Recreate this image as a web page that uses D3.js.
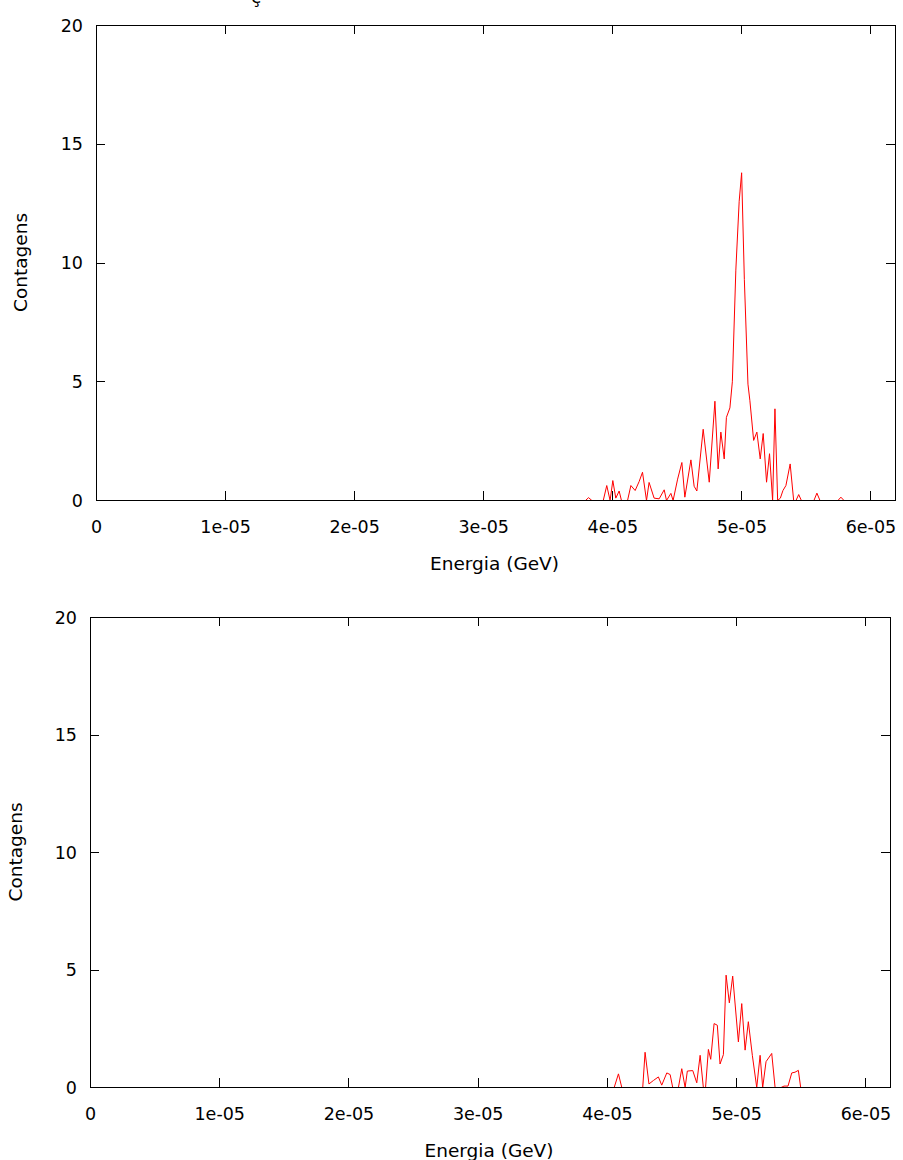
<!DOCTYPE html>
<html>
<head>
<meta charset="utf-8">
<script src="https://cdn.jsdelivr.net/npm/d3@7"></script>
<style>
  html, body { margin: 0; padding: 0; background: #fff; }
  svg { display: block; font-family: "DejaVu Sans", sans-serif; }
  .tick-label { font-size: 17.5px; fill: #000; }
  .axis-title { font-size: 18.5px; fill: #000; }
</style>
</head>
<body>
<div id="chart"></div>
<script>
// Espectros de energia (contagens por bin).
const ticksEnergia = [0, 1e-5, 2e-5, 3e-5, 4e-5, 5e-5, 6e-5];
const rotulosEnergia = ['0', '1e-05', '2e-05', '3e-05', '4e-05', '5e-05', '6e-05'];
const ticksContagens = [0, 5, 10, 15, 20];

const energiaTopo = [
  0, 3.788e-5, 3.812e-5, 3.838e-5, 3.926e-5, 3.953e-5, 3.979e-5, 4.000e-5,
  4.023e-5, 4.049e-5, 4.067e-5, 4.114e-5, 4.140e-5, 4.173e-5, 4.204e-5, 4.230e-5,
  4.261e-5, 4.281e-5, 4.320e-5, 4.359e-5, 4.398e-5, 4.416e-5, 4.450e-5, 4.467e-5,
  4.502e-5, 4.535e-5, 4.558e-5, 4.605e-5, 4.630e-5, 4.651e-5, 4.700e-5, 4.747e-5,
  4.791e-5, 4.816e-5, 4.837e-5, 4.863e-5, 4.880e-5, 4.907e-5, 4.926e-5, 4.953e-5,
  4.979e-5, 4.998e-5, 5.019e-5, 5.047e-5, 5.062e-5, 5.091e-5, 5.116e-5, 5.142e-5,
  5.165e-5, 5.191e-5, 5.214e-5, 5.238e-5, 5.256e-5, 5.277e-5, 5.298e-5, 5.318e-5,
  5.341e-5, 5.374e-5, 5.401e-5, 5.419e-5, 5.440e-5, 5.461e-5, 5.558e-5, 5.581e-5,
  5.605e-5, 5.744e-5, 5.767e-5, 5.791e-5, 6.19e-5
];
const contagensTopo = [
  0, 0, 0.12, 0, 0, 0.63, 0, 0.84,
  0.1, 0.4, 0, 0, 0.63, 0.42, 0.8, 1.19,
  0, 0.76, 0.1, 0.07, 0.45, 0, 0.3, 0,
  0.9, 1.6, 0.14, 1.71, 0.6, 0.4, 3.0, 0.77,
  4.18, 1.33, 2.88, 1.75, 3.5, 3.9, 5.0, 9.7,
  12.6, 13.8, 9.3, 4.9, 4.2, 2.53, 2.88, 1.75,
  2.82, 0.77, 1.97, 0, 3.86, 0, 0.1, 0.42,
  0.63, 1.54, 0, 0, 0.25, 0, 0, 0.31,
  0, 0, 0.14, 0, 0
];

const energiaBase = [
  0, 4.052e-5, 4.085e-5, 4.111e-5, 4.273e-5, 4.291e-5, 4.321e-5, 4.356e-5,
  4.394e-5, 4.420e-5, 4.459e-5, 4.485e-5, 4.505e-5, 4.549e-5, 4.575e-5, 4.601e-5,
  4.618e-5, 4.660e-5, 4.691e-5, 4.717e-5, 4.742e-5, 4.759e-5, 4.781e-5, 4.799e-5,
  4.825e-5, 4.850e-5, 4.871e-5, 4.897e-5, 4.918e-5, 4.943e-5, 4.969e-5, 5.013e-5,
  5.039e-5, 5.065e-5, 5.090e-5, 5.121e-5, 5.155e-5, 5.181e-5, 5.201e-5, 5.227e-5,
  5.271e-5, 5.297e-5, 5.343e-5, 5.366e-5, 5.397e-5, 5.426e-5, 5.451e-5, 5.477e-5,
  5.495e-5, 6.19e-5
];
const contagensBase = [
  0, 0, 0.58, 0, 0, 1.5, 0.15, 0.3,
  0.45, 0.1, 0.62, 0.55, 0, 0, 0.8, 0,
  0.7, 0.72, 0.2, 1.37, 0, 0, 1.62, 1.2,
  2.72, 2.65, 1.0, 1.4, 4.78, 3.6, 4.74, 1.94,
  3.57, 1.59, 2.8, 1.37, 0, 1.37, 0, 1.1,
  1.45, 0, 0, 0.06, 0.06, 0.62, 0.65, 0.73,
  0, 0
];

const W = 903, H = 1160;
const svg = d3.select('#chart').append('svg')
  .attr('width', W).attr('height', H)
  .attr('viewBox', `0 0 ${W} ${H}`);

// Título cortado no topo: só a cedilha aparece.
svg.append('text')
  .attr('class', 'axis-title')
  .attr('x', 256).attr('y', 3)
  .attr('text-anchor', 'middle')
  .text('ç');

function drawPanel(box, energia, contagens) {
  const x = d3.scaleLinear().domain([0, 6.19e-5]).range([box.left + 0.5, box.right + 0.5]);
  const y = d3.scaleLinear().domain([0, 20]).range([box.bottom + 0.5, box.top + 0.5]);
  const g = svg.append('g');
  const tickLen = 9;

  // curva
  g.append('path')
    .datum(d3.zip(energia, contagens))
    .attr('fill', 'none')
    .attr('stroke', '#ff0000')
    .attr('stroke-width', 1)
    .attr('d', d3.line().x(d => x(d[0])).y(d => y(d[1])));

  // moldura
  g.append('rect')
    .attr('x', box.left + 0.5).attr('y', box.top + 0.5)
    .attr('width', box.right - box.left).attr('height', box.bottom - box.top)
    .attr('fill', 'none').attr('stroke', '#000').attr('stroke-width', 1)
    .attr('shape-rendering', 'crispEdges');

  // ticks (embaixo/em cima e esquerda/direita)
  const tk = g.append('g').attr('stroke', '#000').attr('shape-rendering', 'crispEdges');
  ticksEnergia.forEach(t => {
    const px = Math.round(x(t) - 0.5) + 0.5;
    tk.append('line').attr('x1', px).attr('x2', px)
      .attr('y1', box.bottom).attr('y2', box.bottom - tickLen);
    tk.append('line').attr('x1', px).attr('x2', px)
      .attr('y1', box.top).attr('y2', box.top + tickLen);
  });
  ticksContagens.forEach(t => {
    const py = Math.round(y(t) - 0.5) + 0.5;
    tk.append('line').attr('x1', box.left).attr('x2', box.left + tickLen)
      .attr('y1', py).attr('y2', py);
    tk.append('line').attr('x1', box.right).attr('x2', box.right - tickLen)
      .attr('y1', py).attr('y2', py);
  });

  g.selectAll('.xl').data(ticksEnergia).join('text')
    .attr('class', 'tick-label')
    .attr('x', d => x(d))
    .attr('y', box.bottom + 33)
    .attr('text-anchor', 'middle')
    .text((d, i) => rotulosEnergia[i]);

  g.selectAll('.yl').data(ticksContagens).join('text')
    .attr('class', 'tick-label')
    .attr('x', box.left - 13)
    .attr('y', d => y(d) + 6)
    .attr('text-anchor', 'end')
    .text(d => d);

  g.append('text')
    .attr('class', 'axis-title')
    .attr('x', (box.left + box.right) / 2 - 1)
    .attr('y', box.bottom + 70)
    .attr('text-anchor', 'middle')
    .text('Energia (GeV)');

  g.append('text')
    .attr('class', 'axis-title')
    .attr('transform', `translate(${box.ylabelX},${(box.top + box.bottom) / 2}) rotate(-90)`)
    .attr('text-anchor', 'middle')
    .text('Contagens');
}

drawPanel({ left: 96, right: 895, top: 25, bottom: 500, ylabelX: 27 }, energiaTopo, contagensTopo);
drawPanel({ left: 90, right: 890, top: 617, bottom: 1087, ylabelX: 22 }, energiaBase, contagensBase);
</script>
</body>
</html>
